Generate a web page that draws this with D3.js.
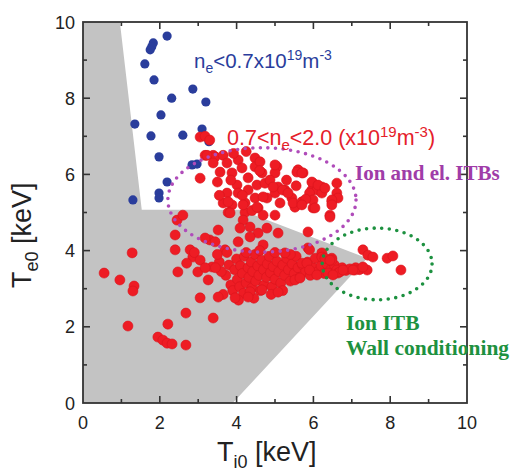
<!DOCTYPE html>
<html lang="en">
<head>
    <meta charset="UTF-8">
    <title>Te0 vs Ti0</title>
    <script src="https://cdn.jsdelivr.net/npm/d3@7"></script>
    <style>
        body { margin: 0; background: #fff; }
        text { font-family: "Liberation Sans", Arial, sans-serif; }
        text.serif { font-family: "Liberation Serif", "Times New Roman", serif; font-weight: bold; }
    </style>
</head>
<body>
<script>
    // T_e0 vs T_i0 scatter, two density groups
    const xTicks = [0, 2, 4, 6, 8, 10]
    const yTicks = [0, 2, 4, 6, 8, 10]

    // n_e < 0.7e19  [Ti0, Te0]
    const lowDensity = [
        [2.19, 9.63], [1.83, 9.45], [1.79, 9.35], [1.75, 9.27], [1.61, 8.9], [1.85, 8.48],
        [2.31, 8.0], [2.86, 8.24], [3.2, 7.9], [2.03, 7.56], [1.35, 7.32], [1.77, 7.01],
        [2.6, 7.03], [3.1, 7.19], [3.28, 6.86], [1.98, 6.46], [2.84, 6.25], [2.97, 6.27],
        [2.19, 5.8], [1.98, 5.51], [1.98, 5.38], [1.3, 5.33]
    ]

    // 0.7 < n_e < 2.0
    const midDensity = [
        // upper group
        [3.05, 6.98], [3.18, 7.0], [3.3, 6.9], [3.05, 5.9], [3.18, 6.5], [3.39, 6.5], [3.44, 6.46],
        [3.23, 6.5], [3.39, 6.3], [3.65, 6.5], [3.75, 6.3], [3.57, 6.06], [3.88, 6.04], [4.04, 6.38],
        [4.14, 6.17], [4.48, 6.43], [4.48, 6.2], [4.3, 5.91], [4.01, 5.72], [3.75, 5.51], [3.65, 5.25],
        [3.88, 5.2], [4.04, 5.51], [4.3, 5.59], [4.53, 5.72], [4.74, 5.77], [4.66, 6.04], [5.05, 6.2],
        [5.0, 6.04], [4.87, 5.85], [5.08, 5.67], [5.0, 5.51], [4.79, 5.38], [4.48, 5.38], [4.22, 5.25],
        [4.56, 5.12], [5.26, 5.59], [5.44, 5.38], [5.13, 5.25], [5.6, 6.12], [5.73, 6.04], [5.52, 5.14],
        [5.99, 5.77], [5.96, 5.59], [6.09, 5.59], [6.22, 5.67], [6.22, 5.51], [5.99, 5.12], [6.48, 5.28],
        [6.61, 5.77], [6.61, 5.51], [4.22, 5.0], [3.78, 5.0], [4.69, 4.93], [5.0, 4.93], [6.43, 4.93],
        [4.61, 6.33], [5.0, 6.25], [5.57, 6.06], [5.7, 6.04], [5.96, 5.8], [6.12, 5.72], [6.3, 5.64],
        [6.64, 5.38], [6.48, 5.33], [5.9, 5.51], [5.99, 5.33], [4.95, 5.67], [5.2, 5.59], [5.34, 5.51],
        [4.69, 5.41], [5.47, 5.25], [5.7, 5.28], [4.6, 6.1], [3.92, 6.55], [4.25, 6.6], [3.5, 5.8],
        [3.85, 5.85], [4.15, 5.45], [4.4, 5.05], [3.55, 5.45], [5.3, 5.85], [5.55, 5.7], [5.8, 5.35],
        // between the groups
        [2.45, 4.8], [2.6, 4.93], [2.4, 4.41], [2.4, 4.02], [2.79, 4.02], [3.52, 4.54], [3.3, 4.28],
        [3.83, 4.99], [3.78, 5.28], [4.17, 4.8], [4.35, 4.62], [4.56, 4.46], [4.09, 4.59], [4.53, 5.14],
        [4.17, 5.2], [5.08, 4.46], [4.79, 4.59], [4.69, 4.15], [5.86, 4.49], [6.43, 4.88], [6.48, 5.2],
        [6.04, 5.12], [5.7, 5.2], [3.18, 4.33], [3.44, 4.23], [4.04, 4.23], [4.35, 4.36], [3.7, 4.02],
        // low left
        [1.28, 3.94], [0.55, 3.41], [0.96, 3.23], [1.33, 3.07], [1.3, 2.94], [1.17, 2.02], [2.21, 2.07],
        [1.95, 1.73], [2.08, 1.65], [2.19, 1.57], [2.32, 1.55], [2.68, 1.52], [2.68, 2.36], [3.05, 2.76],
        [3.39, 2.23], [2.47, 3.44], [2.86, 3.83], [2.7, 3.67], [2.99, 3.44], [3.26, 3.23], [3.36, 3.57],
        [2.9, 3.95], [3.05, 3.75], [3.18, 3.55],
        // main cluster
        [3.72, 3.35], [3.8, 3.62], [3.85, 3.1], [3.9, 2.95], [3.95, 3.5], [4.0, 3.78], [4.02, 3.25],
        [4.08, 3.05], [4.1, 3.6], [4.15, 3.4], [4.18, 2.88], [4.2, 3.85], [4.25, 3.15], [4.3, 3.55],
        [4.32, 3.3], [4.38, 3.7], [4.4, 3.02], [4.42, 3.45], [4.48, 3.9], [4.5, 3.2], [4.55, 3.6],
        [4.58, 3.35], [4.62, 2.95], [4.65, 3.75], [4.7, 3.5], [4.72, 3.1], [4.78, 3.3], [4.8, 3.65],
        [4.85, 3.85], [4.88, 3.42], [4.92, 3.05], [4.95, 3.58], [5.0, 3.25], [5.05, 3.72], [5.1, 3.45],
        [5.15, 3.15], [5.2, 3.62], [5.25, 3.35], [5.3, 3.8], [5.35, 3.5], [5.4, 3.2], [5.45, 3.65],
        [5.5, 3.4], [5.55, 3.85], [5.6, 3.55], [5.65, 3.3], [5.72, 3.62], [5.8, 3.45], [5.85, 3.7],
        [5.92, 3.35], [6.0, 3.55], [6.05, 3.8], [6.12, 3.45], [6.2, 3.6], [6.28, 3.4], [6.35, 3.65],
        [6.45, 3.5], [6.55, 3.62], [6.62, 3.45], [6.75, 3.55], [6.85, 3.48], [6.95, 3.52], [7.1, 3.55],
        [7.2, 3.5], [3.6, 3.45], [3.55, 3.7], [3.5, 3.9], [3.45, 3.55], [3.65, 2.85], [4.05, 2.7],
        [4.45, 2.75], [3.75, 3.95], [4.25, 3.95], [4.6, 4.0], [4.35, 2.92], [5.2, 2.95], [4.9, 2.85],
        [5.4, 3.9], [5.0, 3.95], [3.52, 2.78], [3.96, 2.76], [4.3, 2.78], [4.66, 2.97], [5.08, 2.91],
        [5.52, 3.23], [5.26, 3.94], [5.86, 4.07], [6.22, 3.94], [6.48, 3.8], [6.61, 3.49], [5.7, 3.67],
        [6.38, 3.41], [6.64, 3.41], [6.22, 3.83], [6.48, 3.75], [5.9, 4.02],
        // right tail
        [7.29, 4.02], [7.42, 3.88], [7.55, 3.83], [7.92, 3.8], [8.07, 3.86], [8.28, 3.49], [7.4, 3.49],
        [7.08, 3.49], [6.69, 3.44], [6.51, 3.36], [6.3, 3.8], [6.43, 3.75], [5.83, 3.67], [7.29, 3.57],
        [7.03, 3.49], [6.77, 3.49], [5.9, 3.49], [5.65, 3.28], [6.09, 3.36]
    ]

    // grey operating region outline
    const greyRegion = [[0, 0], [0, 10], [0.96, 10], [1.53, 5.07], [4.1, 5.07], [7.4, 3.8], [3.9, 0]]

    const width = 511, height = 472
    const svg = d3.select('body').append('svg')
        .attr('width', width)
        .attr('height', height)

    const x = d3.scaleLinear().domain([0, 10]).range([83, 467])
    const y = d3.scaleLinear().domain([0, 10]).range([403, 22])

    const plot = svg.append('g')

    plot.append('path')
        .datum(greyRegion)
        .attr('d', d3.line().x(d => x(d[0])).y(d => y(d[1])))
        .attr('fill', '#c3c3c3')

    plot.selectAll('circle.low').data(lowDensity).enter().append('circle')
        .attr('class', 'low')
        .attr('cx', d => x(d[0]))
        .attr('cy', d => y(d[1]))
        .attr('r', 4.6)
        .attr('fill', '#2a3d9c')

    plot.selectAll('circle.mid').data(midDensity).enter().append('circle')
        .attr('class', 'mid')
        .attr('cx', d => x(d[0]))
        .attr('cy', d => y(d[1]))
        .attr('r', 5)
        .attr('fill', '#ee1c24')
        .attr('stroke', '#d8141c')
        .attr('stroke-width', 0.6)

    // dotted ellipses
    const ellipse = (cx, cy, rx, ry, color) => {
        plot.append('ellipse')
            .attr('cx', x(cx))
            .attr('cy', y(cy))
            .attr('rx', x(rx) - x(0))
            .attr('ry', y(0) - y(ry))
            .attr('fill', 'none')
            .attr('stroke', color)
            .attr('stroke-width', 3.6)
            .attr('stroke-linecap', 'round')
            .attr('stroke-dasharray', '0 7.6')
    }
    ellipse(4.66, 5.33, 2.45, 1.37, '#b04cba')
    ellipse(7.66, 3.65, 1.43, 0.94, '#1d9140')

    // axes, ticks inward on all sides
    const frame = svg.append('g')
    frame.append('rect')
        .attr('x', x(0)).attr('y', y(10))
        .attr('width', x(10) - x(0)).attr('height', y(0) - y(10))
        .attr('fill', 'none').attr('stroke', '#333').attr('stroke-width', 1.8)

    const minor = d3.range(1, 10)
    const tick = (sel, vals, len, side) => {
        sel.selectAll(null).data(vals).enter().append('line')
            .attr('x1', d => side === 'b' || side === 't' ? x(d) : (side === 'l' ? x(0) : x(10)))
            .attr('x2', d => side === 'b' || side === 't' ? x(d) : (side === 'l' ? x(0) + len : x(10) - len))
            .attr('y1', d => side === 'l' || side === 'r' ? y(d) : (side === 'b' ? y(0) : y(10)))
            .attr('y2', d => side === 'l' || side === 'r' ? y(d) : (side === 'b' ? y(0) - len : y(10) + len))
            .attr('stroke', '#333').attr('stroke-width', 1.6)
    }
    ;['b', 't', 'l', 'r'].forEach(s => {
        tick(frame, minor.filter(d => d % 2 === 0), 7, s)
        tick(frame, minor.filter(d => d % 2 === 1), 4, s)
    })

    frame.selectAll('text.xt').data(xTicks).enter().append('text')
        .attr('class', 'xt')
        .attr('x', d => x(d)).attr('y', 429)
        .attr('text-anchor', 'middle')
        .attr('font-size', 18).attr('fill', '#222')
        .text(d => d)

    frame.selectAll('text.yt').data(yTicks).enter().append('text')
        .attr('class', 'yt')
        .attr('x', 75).attr('y', d => y(d) + 6.5)
        .attr('text-anchor', 'end')
        .attr('font-size', 18).attr('fill', '#222')
        .text(d => d)

    // axis titles
    const xt = svg.append('text')
        .attr('x', 217).attr('y', 461)
        .attr('font-size', 27).attr('fill', '#222')
    xt.append('tspan').text('T')
    xt.append('tspan').attr('dy', 7).attr('font-size', 18).text('i0')
    xt.append('tspan').attr('dy', -7).text(' [keV]')

    const yt = svg.append('text')
        .attr('transform', 'translate(31,288) rotate(-90)')
        .attr('font-size', 27).attr('fill', '#222')
    yt.append('tspan').text('T')
    yt.append('tspan').attr('dy', 7).attr('font-size', 18).text('e0')
    yt.append('tspan').attr('dy', -7).text(' [keV]')

    // group labels
    const blueLbl = svg.append('text')
        .attr('x', 194).attr('y', 68)
        .attr('font-size', 20.5).attr('fill', '#2a3d9c')
    blueLbl.append('tspan').text('n')
    blueLbl.append('tspan').attr('dy', 5).attr('font-size', 14).text('e')
    blueLbl.append('tspan').attr('dy', -5).text('<0.7x10')
    blueLbl.append('tspan').attr('dy', -8).attr('font-size', 14).text('19')
    blueLbl.append('tspan').attr('dy', 8).text('m')
    blueLbl.append('tspan').attr('dy', -8).attr('font-size', 14).text('-3')

    const redLbl = svg.append('text')
        .attr('x', 227).attr('y', 145)
        .attr('font-size', 21.5).attr('fill', '#e5202a')
    redLbl.append('tspan').text('0.7<n')
    redLbl.append('tspan').attr('dy', 5).attr('font-size', 15).text('e')
    redLbl.append('tspan').attr('dy', -5).text('<2.0 (x10')
    redLbl.append('tspan').attr('dy', -8).attr('font-size', 15).text('19')
    redLbl.append('tspan').attr('dy', 8).text('m')
    redLbl.append('tspan').attr('dy', -8).attr('font-size', 15).text('-3')
    redLbl.append('tspan').attr('dy', 8).text(')')

    svg.append('text')
        .attr('class', 'serif')
        .attr('x', 355).attr('y', 180)
        .attr('font-size', 21).attr('fill', '#a03ca8')
        .text('Ion and el. ITBs')

    svg.append('text')
        .attr('class', 'serif')
        .attr('x', 346).attr('y', 330)
        .attr('font-size', 21.5).attr('fill', '#1d9140')
        .text('Ion ITB')
    svg.append('text')
        .attr('class', 'serif')
        .attr('x', 346).attr('y', 355)
        .attr('font-size', 21.5).attr('fill', '#1d9140')
        .text('Wall conditioning')
</script>
</body>
</html>
